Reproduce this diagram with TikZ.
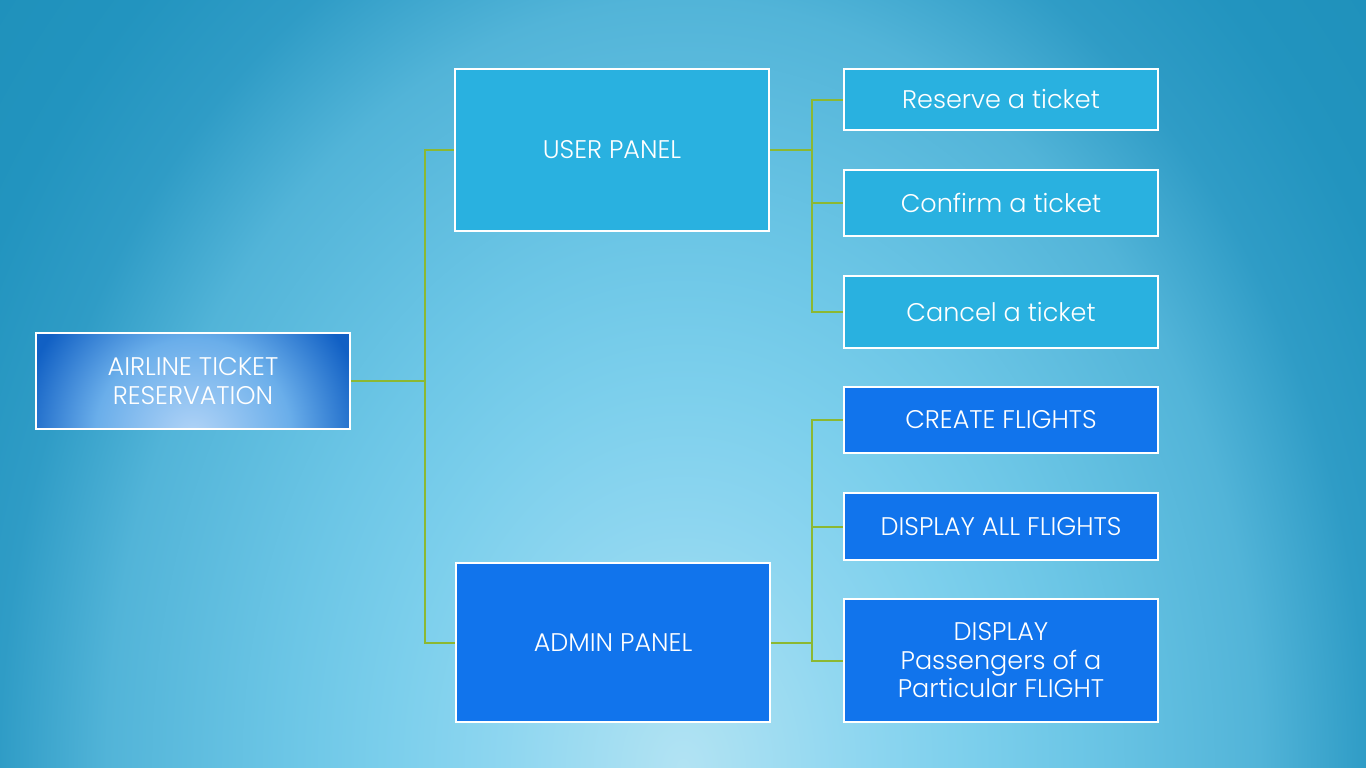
\documentclass[tikz,border=0pt]{standalone}
\usepackage{fontspec}
\setmainfont{Poppins}[UprightFont=* Light]
\definecolor{bg0}{HTML}{B2E3F3}
\definecolor{bg1}{HTML}{8ED6F0}
\definecolor{bg2}{HTML}{7CCFEC}
\definecolor{bg3}{HTML}{6CC6E6}
\definecolor{bg4}{HTML}{52B4D8}
\definecolor{bg5}{HTML}{2F9CC6}
\definecolor{bg6}{HTML}{2294BF}
\definecolor{bg7}{HTML}{1E90BA}
\definecolor{rt0}{HTML}{B2D4F7}
\definecolor{rt1}{HTML}{6AAEEA}
\definecolor{rt2}{HTML}{1160C4}
\definecolor{userblue}{HTML}{29B1E0}
\definecolor{adminblue}{HTML}{1174EC}
\definecolor{linkgreen}{HTML}{8CB832}
\pgfdeclareradialshading{bgshade}{\pgfpoint{0bp}{0bp}}{color(0bp)=(bg0); color(4.46bp)=(bg1); color(7.14bp)=(bg2); color(9.82bp)=(bg3); color(14.29bp)=(bg4); color(16.96bp)=(bg5); color(19.64bp)=(bg6); color(23.2bp)=(bg7); color(25bp)=(bg7); color(50bp)=(bg7)}
\pgfdeclareradialshading{rootshade}{\pgfpoint{0bp}{0bp}}{color(0bp)=(rt0); color(14bp)=(rt1); color(25bp)=(rt2); color(50bp)=(rt2)}
\tikzset{
  box/.style={draw=white, line width=2pt, text=white, align=center, inner sep=0pt,
    font=\fontsize{25.5}{28.5}\selectfont},
  userbox/.style={box, fill=userblue},
  adminbox/.style={box, fill=adminblue},
  link/.style={draw=linkgreen, line width=2pt}
}
\begin{document}
\begin{tikzpicture}[x=1pt, y=-1pt]
\useasboundingbox (0,0) rectangle (1366,768);
\begin{scope}
\clip (0,0) rectangle (1366,768);
\fill[bg7] (0,0) rectangle (1366,768);
\shade[shading=bgshade] (683,768) ellipse [x radius=1008pt, y radius=1344pt];
\end{scope}
% root
\node[box, fill=rt2, minimum width=314pt, minimum height=96pt,
  path picture={\shade[shading=rootshade] ([yshift=-8pt]path picture bounding box.south) circle (175pt);}]
  (root) at (193,381) {AIRLINE TICKET\\RESERVATION};
% panels
\node[userbox, minimum width=314pt, minimum height=162pt] (user) at (612,150) {USER PANEL};
\node[adminbox, minimum width=314pt, minimum height=159pt] (admin) at (613,642.5) {ADMIN PANEL};
% user children
\node[userbox, minimum width=314pt, minimum height=61pt] (r1) at (1001,99.5) {Reserve a ticket};
\node[userbox, minimum width=314pt, minimum height=66pt] (r2) at (1001,203) {Confirm a ticket};
\node[userbox, minimum width=314pt, minimum height=72pt] (r3) at (1001,312) {Cancel a ticket};
% admin children
\node[adminbox, minimum width=314pt, minimum height=66pt] (a1) at (1001,420) {CREATE FLIGHTS};
\node[adminbox, minimum width=314pt, minimum height=67pt] (a2) at (1001,526.5) {DISPLAY ALL FLIGHTS};
\node[adminbox, minimum width=314pt, minimum height=123pt] (a3) at (1001,660.5) {DISPLAY\\Passengers of a\\Particular FLIGHT};
% connectors
\coordinate (j1) at (425,381);
\coordinate (j2) at (812,150);
\coordinate (j3) at (812,642.5);
\draw[link] (root.east) -- (j1) |- (user.west);
\draw[link] (j1) |- (admin.west);
\draw[link] (user.east) -- (j2) |- (r1.west);
\draw[link] (j2) |- (r2.west);
\draw[link] (j2) |- (r3.west);
\draw[link] (admin.east) -- (j3) |- (a1.west);
\draw[link] (j3) |- (a2.west);
\draw[link] (j3) |- (a3.west);
\end{tikzpicture}
\end{document}
